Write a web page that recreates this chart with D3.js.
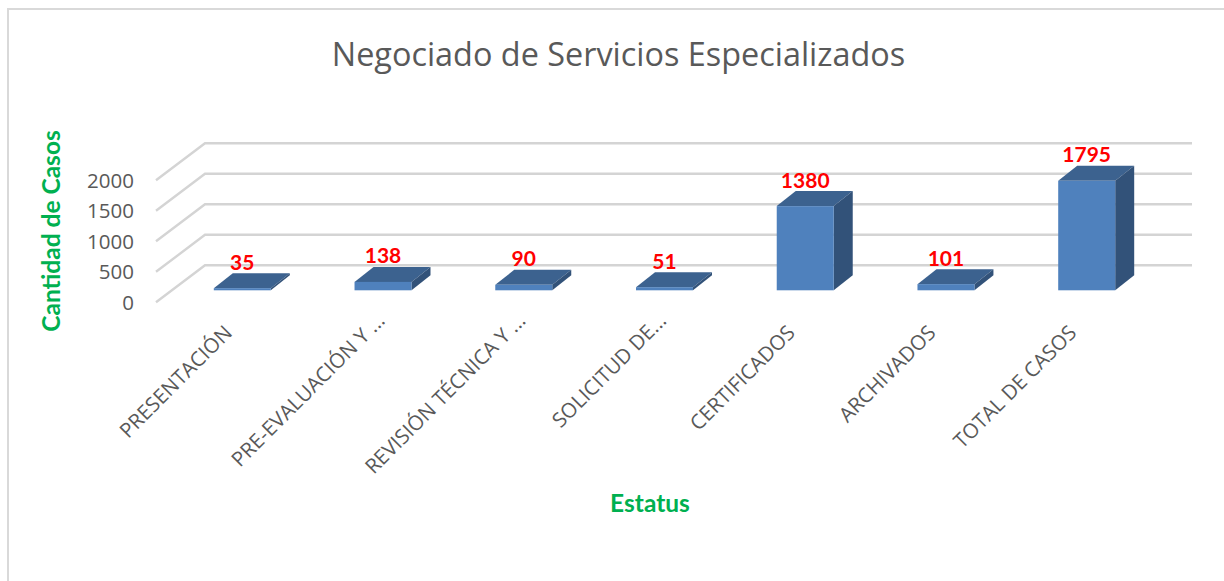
<!DOCTYPE html>
<html>
<head>
<meta charset="utf-8">
<script src="https://cdn.jsdelivr.net/npm/d3@7"></script>
<style>
html, body { margin: 0; padding: 0; background: #fff; }
svg { display: block; }
</style>
</head>
<body>
<svg id="chart" width="1224" height="581"></svg>
<script>
const categories = ["PRESENTACIÓN", "PRE-EVALUACIÓN Y ...", "REVISIÓN TÉCNICA Y ...", "SOLICITUD DE...", "CERTIFICADOS", "ARCHIVADOS", "TOTAL DE CASOS"];
const values = [35, 138, 90, 51, 1380, 101, 1795];
const yTicks = [0, 500, 1000, 1500, 2000];

const svg = d3.select("#chart");
const sans = "'Open Sans', sans-serif";
const labelFont = "Lato, sans-serif";

// frame of the chart, only the left and top edges fall inside the crop
svg.append("path")
    .attr("d", "M8,581V9H1224")
    .attr("fill", "none")
    .attr("stroke", "#d9d9d9")
    .attr("stroke-width", 2);

svg.append("text")
    .attr("x", 618.5).attr("y", 66)
    .attr("text-anchor", "middle")
    .attr("font-family", sans)
    .attr("font-size", 32.4)
    .attr("fill", "#595959")
    .text("Negociado de Servicios Especializados");

// the 3d floor is drawn by offsetting the front plane against the back wall
const depthX = 49, depthY = 37;
const barDepthX = 19, barDepthY = 15;

const yBack = d3.scaleLinear().domain([0, 2000]).range([265.3, 143.3]);
const y = d3.scaleLinear().domain([0, 2000]).range([290.3, 168.3]);
const x = d3.scaleBand()
    .domain(categories)
    .range([172, 1157])
    .paddingInner(0.595)
    .paddingOuter(0.297);

const grid = svg.append("g")
    .attr("fill", "none")
    .attr("stroke", "#d4d4d4")
    .attr("stroke-width", 2.4);

grid.selectAll("path")
    .data(yTicks)
    .join("path")
    .attr("d", d => {
        const p = d3.path();
        p.moveTo(205 - depthX, yBack(d) + depthY);
        p.lineTo(205, yBack(d));
        p.lineTo(1192, yBack(d));
        return p.toString();
    });

svg.append("g")
    .selectAll("text")
    .data(yTicks)
    .join("text")
    .attr("x", 134)
    .attr("y", d => yBack(d) + depthY + 7.5)
    .attr("text-anchor", "end")
    .attr("font-family", sans)
    .attr("font-size", 20.5)
    .attr("fill", "#595959")
    .text(d => d);

const bars = svg.append("g")
    .selectAll("g")
    .data(categories.map((c, i) => ({ c, v: values[i] })))
    .join("g");

// top
bars.append("path")
    .attr("fill", "#3c628f")
    .attr("d", d => {
        const l = x(d.c), r = l + x.bandwidth(), t = y(d.v);
        return `M${l},${t}L${l + barDepthX},${t - barDepthY}L${r + barDepthX},${t - barDepthY}L${r},${t}Z`;
    });

// side
bars.append("path")
    .attr("fill", "#325279")
    .attr("d", d => {
        const r = x(d.c) + x.bandwidth(), t = y(d.v), b = y(0);
        return `M${r},${t}L${r + barDepthX},${t - barDepthY}L${r + barDepthX},${b - barDepthY}L${r},${b}Z`;
    });

// front
bars.append("rect")
    .attr("fill", "#4f81bd")
    .attr("x", d => x(d.c))
    .attr("y", d => y(d.v))
    .attr("width", x.bandwidth())
    .attr("height", d => y(0) - y(d.v));

bars.append("text")
    .attr("x", d => x(d.c) + x.bandwidth() / 2)
    .attr("y", d => y(d.v) - 18.5)
    .attr("text-anchor", "middle")
    .attr("font-family", labelFont)
    .attr("font-weight", "bold")
    .attr("font-size", 21)
    .attr("fill", "#ff0000")
    .text(d => d.v);

// truncated labels sit further along their baseline than the full ones
svg.append("g")
    .selectAll("text")
    .data(categories)
    .join("text")
    .attr("text-anchor", "end")
    .attr("font-family", sans)
    .attr("font-size", 20.5)
    .attr("fill", "#595959")
    .attr("dx", d => d.endsWith("...") ? 17 : 0)
    .attr("transform", d => `translate(${x(d) + x.bandwidth() / 2 - 9},${334}) rotate(-45)`)
    .text(d => d);

svg.append("text")
    .attr("x", 650).attr("y", 512)
    .attr("text-anchor", "middle")
    .attr("font-family", labelFont)
    .attr("font-weight", "bold")
    .attr("font-size", 24.5)
    .attr("fill", "#00b050")
    .text("Estatus");

svg.append("text")
    .attr("transform", "translate(60,231) rotate(-90)")
    .attr("text-anchor", "middle")
    .attr("font-family", labelFont)
    .attr("font-weight", "bold")
    .attr("font-size", 24.5)
    .attr("fill", "#00b050")
    .text("Cantidad de Casos");
</script>
</body>
</html>
